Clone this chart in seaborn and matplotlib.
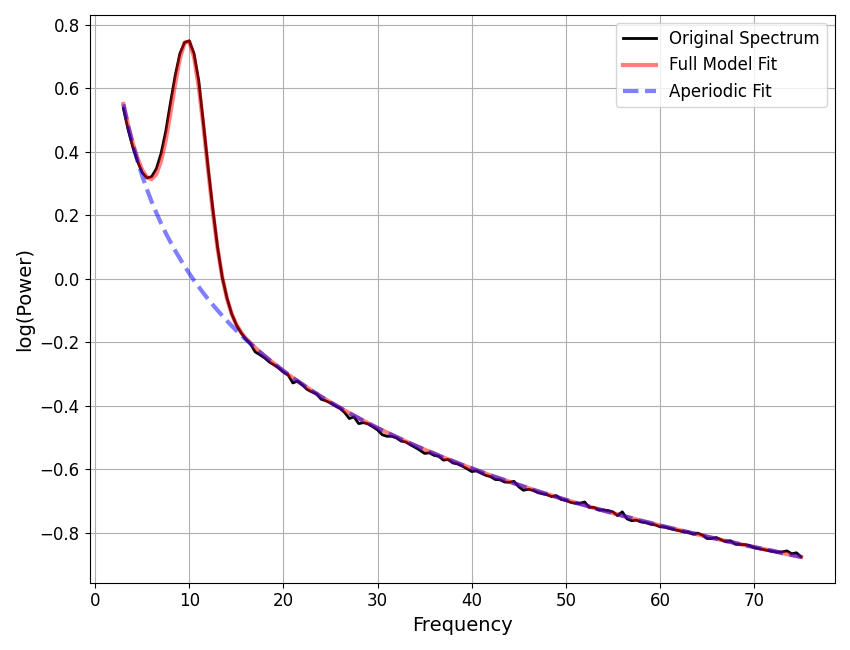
import matplotlib
matplotlib.use("Agg")
import matplotlib.pyplot as plt
import seaborn as sns
import pandas as pd
import numpy as np

# Frequencies of the original spectrum (0.5 Hz resolution)
freqs = [3.0, 3.5, 4.0, 4.5, 5.0, 5.5, 6.0, 6.5, 7.0, 7.5, 8.0, 8.5, 9.0, 9.5,
         10.0, 10.5, 11.0, 11.5, 12.0, 12.5, 13.0, 13.5, 14.0, 14.5, 15.0, 15.5,
         16.0, 16.5, 17.0, 17.5, 18.0, 18.5, 19.0, 19.5, 20.0, 20.5, 21.0, 21.5,
         22.0, 22.5, 23.0, 23.5, 24.0, 24.5, 25.0, 25.5, 26.0, 26.5, 27.0, 27.5,
         28.0, 28.5, 29.0, 29.5, 30.0, 30.5, 31.0, 31.5, 32.0, 32.5, 33.0, 33.5,
         34.0, 34.5, 35.0, 35.5, 36.0, 36.5, 37.0, 37.5, 38.0, 38.5, 39.0, 39.5,
         40.0, 40.5, 41.0, 41.5, 42.0, 42.5, 43.0, 43.5, 44.0, 44.5, 45.0, 45.5,
         46.0, 46.5, 47.0, 47.5, 48.0, 48.5, 49.0, 49.5, 50.0, 50.5, 51.0, 51.5,
         52.0, 52.5, 53.0, 53.5, 54.0, 54.5, 55.0, 55.5, 56.0, 56.5, 57.0, 57.5,
         58.0, 58.5, 59.0, 59.5, 60.0, 60.5, 61.0, 61.5, 62.0, 62.5, 63.0, 63.5,
         64.0, 64.5, 65.0, 65.5, 66.0, 66.5, 67.0, 67.5, 68.0, 68.5, 69.0, 69.5,
         70.0, 70.5, 71.0, 71.5, 72.0, 72.5, 73.0, 73.5, 74.0, 74.5, 75.0]

original_spectrum = [
    0.537, 0.470, 0.415, 0.370, 0.335, 0.318, 0.322, 0.347, 0.395, 0.465,
    0.555, 0.640, 0.710, 0.745, 0.750, 0.710, 0.625, 0.490, 0.350, 0.220,
    0.100, 0.005, -0.060, -0.110, -0.145, -0.170, -0.190, -0.205, -0.230, -0.239,
    -0.249, -0.262, -0.271, -0.281, -0.294, -0.303, -0.328, -0.322, -0.334, -0.348,
    -0.356, -0.362, -0.379, -0.384, -0.391, -0.400, -0.408, -0.421, -0.440, -0.435,
    -0.456, -0.453, -0.457, -0.466, -0.476, -0.491, -0.496, -0.496, -0.501, -0.511,
    -0.514, -0.523, -0.531, -0.540, -0.550, -0.548, -0.556, -0.559, -0.571, -0.569,
    -0.580, -0.583, -0.590, -0.598, -0.607, -0.605, -0.612, -0.619, -0.623, -0.632,
    -0.633, -0.640, -0.641, -0.638, -0.655, -0.666, -0.663, -0.666, -0.673, -0.677,
    -0.680, -0.686, -0.683, -0.695, -0.698, -0.704, -0.707, -0.707, -0.703, -0.720,
    -0.720, -0.728, -0.728, -0.730, -0.734, -0.746, -0.734, -0.756, -0.762, -0.760,
    -0.766, -0.768, -0.773, -0.775, -0.781, -0.782, -0.786, -0.790, -0.793, -0.797,
    -0.798, -0.804, -0.801, -0.807, -0.818, -0.818, -0.815, -0.822, -0.828, -0.825,
    -0.836, -0.837, -0.837, -0.840, -0.847, -0.850, -0.853, -0.856, -0.859, -0.861,
    -0.860, -0.857, -0.866, -0.863, -0.876]

# Frequencies of the model fits
fit_freqs = [3.0, 3.5, 4.0, 4.5, 5.0, 5.5, 6.0, 6.5, 7.0, 7.5, 8.0, 8.5, 9.0, 9.5,
             10.0, 10.5, 11.0, 11.5, 12.0, 12.5, 13.0, 13.5, 14.0, 14.5, 15.0, 15.5,
             16.0, 17, 18, 19, 20, 21, 22, 23, 24, 25, 26, 27, 28, 29, 30, 31, 32,
             33, 34, 35, 36, 37, 38, 39, 40, 41, 42, 43, 44, 45, 46, 47, 48, 49, 50,
             51, 52, 53, 54, 55, 56, 57, 58, 59, 60, 61, 62, 63, 64, 65, 66, 67, 68,
             69, 70, 71, 72, 73, 74, 75]

aperiodic_fit = [
    0.550, 0.482, 0.423, 0.371, 0.324, 0.282, 0.243, 0.208, 0.175, 0.144,
    0.116, 0.089, 0.064, 0.040, 0.017, -0.005, -0.025, -0.045, -0.064, -0.082,
    -0.099, -0.116, -0.132, -0.148, -0.163, -0.177, -0.191,
    -0.218, -0.243, -0.267, -0.290, -0.312, -0.332, -0.352, -0.371, -0.389, -0.406,
    -0.423, -0.439, -0.455, -0.470, -0.484, -0.498, -0.512, -0.525, -0.538, -0.550,
    -0.563, -0.574, -0.586, -0.597, -0.608, -0.619, -0.629, -0.639, -0.649, -0.659,
    -0.669, -0.678, -0.687, -0.696, -0.705, -0.713, -0.722, -0.730, -0.738, -0.746,
    -0.754, -0.762, -0.769, -0.777, -0.784, -0.791, -0.798, -0.805, -0.812, -0.819,
    -0.826, -0.832, -0.839, -0.845, -0.851, -0.857, -0.864, -0.870, -0.876]

full_model_fit = [
    0.551, 0.484, 0.427, 0.380, 0.343, 0.320, 0.314, 0.330, 0.371, 0.437,
    0.523, 0.615, 0.695, 0.744, 0.747, 0.699, 0.606, 0.481, 0.343, 0.211,
    0.097, 0.006, -0.062, -0.110, -0.144, -0.168, -0.187,
    -0.217, -0.243, -0.267, -0.290, -0.312, -0.332, -0.352, -0.371, -0.389, -0.406,
    -0.423, -0.439, -0.455, -0.470, -0.484, -0.498, -0.512, -0.525, -0.538, -0.550,
    -0.563, -0.574, -0.586, -0.597, -0.608, -0.619, -0.629, -0.639, -0.649, -0.659,
    -0.669, -0.678, -0.687, -0.696, -0.705, -0.713, -0.722, -0.730, -0.738, -0.746,
    -0.754, -0.762, -0.769, -0.777, -0.784, -0.791, -0.798, -0.805, -0.812, -0.819,
    -0.826, -0.832, -0.839, -0.845, -0.851, -0.857, -0.864, -0.870, -0.876]

labels = ["Original Spectrum", "Full Model Fit", "Aperiodic Fit"]

df_orig = pd.DataFrame({"freq": freqs, "power": original_spectrum})
df_fit = pd.DataFrame({"freq": fit_freqs, "full": full_model_fit, "ap": aperiodic_fit})

plt.rcParams["font.family"] = ["DejaVu Sans"]
fig, ax = plt.subplots(figsize=(8.5, 6.5), dpi=100)

sns.lineplot(data=df_orig, x="freq", y="power", ax=ax, color="black",
             linewidth=2.0, label=labels[0], sort=False)
sns.lineplot(data=df_fit, x="freq", y="full", ax=ax, color="red", alpha=0.5,
             linewidth=3.0, label=labels[1], sort=False)
sns.lineplot(data=df_fit, x="freq", y="ap", ax=ax, color="blue", alpha=0.5,
             linewidth=3.0, linestyle="--", label=labels[2], sort=False)

ax.grid(True, color="#b0b0b0", linewidth=0.8)
ax.set_axisbelow(True)
ax.set_xlabel("Frequency", fontsize=14)
ax.set_ylabel("log(Power)", fontsize=14)
ax.tick_params(axis="both", labelsize=12)
ax.legend(fontsize=12, loc="upper right")

fig.tight_layout()
fig.savefig("out.png", dpi=100)
